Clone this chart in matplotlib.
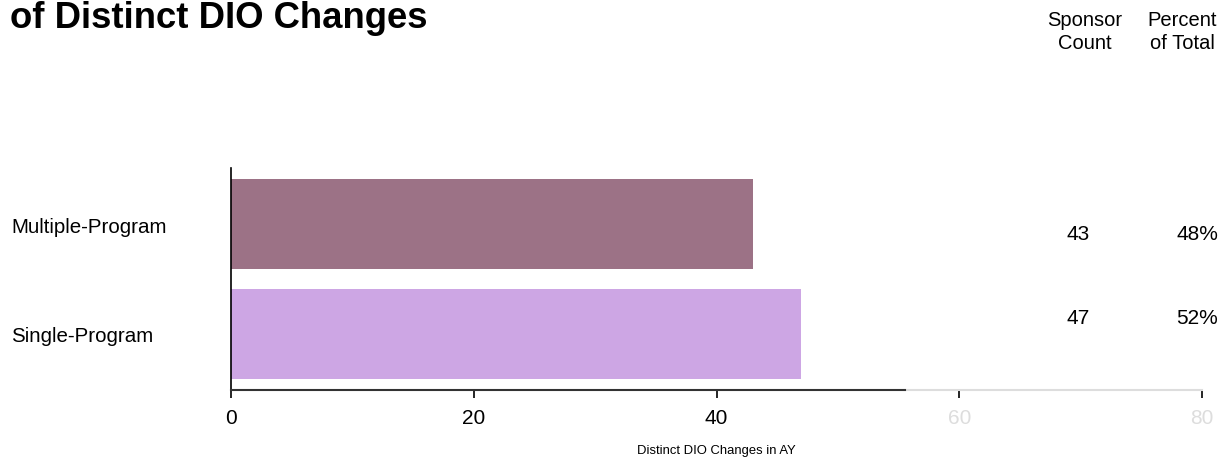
import matplotlib.pyplot as plt

plt.rcParams['font.family'] = ['Liberation Sans', 'DejaVu Sans']

categories = ['Single-Program', 'Multiple-Program']
counts = [47, 43]
percents = ['52%', '48%']
bar_colors = ['#cda6e4', '#9c7286']
xticks = [0, 20, 40, 60, 80]

fig = plt.figure(figsize=(12.22, 4.57), dpi=100)
ax = fig.add_axes([231 / 1222, 1 - 390 / 457, (1202 - 231) / 1222, (390 - 168) / 457])

pos = list(range(len(categories)))
ax.barh(pos, counts, height=0.82, color=bar_colors)
ax.set_xlim(0, 80)
ax.set_ylim(-0.51, 1.51)

for s in ['top', 'right']:
    ax.spines[s].set_visible(False)
ax.spines['left'].set_linewidth(1.2)
ax.spines['bottom'].set_bounds(0, 55.5)
ax.spines['bottom'].set_linewidth(1.5)
ax.spines['bottom'].set_color('#333333')
ax.plot([55.5, 80], [-0.51, -0.51], color='#dddddd', lw=1.5, clip_on=False)

ax.set_yticks(pos)
ax.set_yticklabels([])
ax.tick_params(axis='y', length=0)
ax.set_xticks(xticks)
ax.set_xticklabels([str(t) for t in xticks], fontsize=15)
ax.tick_params(axis='x', length=6, width=1.2, pad=8)
for i, (tl, tk) in enumerate(zip(ax.get_xticklabels(), ax.xaxis.get_major_ticks())):
    if xticks[i] > 55:
        tl.set_color('#dddddd')
        tk.tick1line.set_color('#dddddd')
ax.set_xlabel('Distinct DIO Changes in AY', fontsize=9.4, labelpad=12)

for p, c in zip(pos, categories):
    fig.text(11 / 1222, 1 - (337 - 110 * p) / 457, c, fontsize=14.8, ha='left', va='center')

fig.text(10 / 1222, 1 - 18 / 457, 'of Distinct DIO Changes', fontsize=26.3,
         fontweight='bold', ha='left', va='center')

fig.text(1085 / 1222, 1 - 32 / 457, 'Sponsor\nCount', fontsize=14.5, ha='center',
         va='center', linespacing=1.3)
fig.text(1182 / 1222, 1 - 32 / 457, 'Percent\nof Total', fontsize=14.5, ha='center',
         va='center', linespacing=1.3)

for p, c, pc in zip(pos, counts, percents):
    y = 1 - (318 - 84 * p) / 457
    fig.text(1078 / 1222, y, str(c), fontsize=15, ha='center', va='center')
    fig.text(1218 / 1222, y, pc, fontsize=15, ha='right', va='center')

fig.savefig('out.png', dpi=100)
